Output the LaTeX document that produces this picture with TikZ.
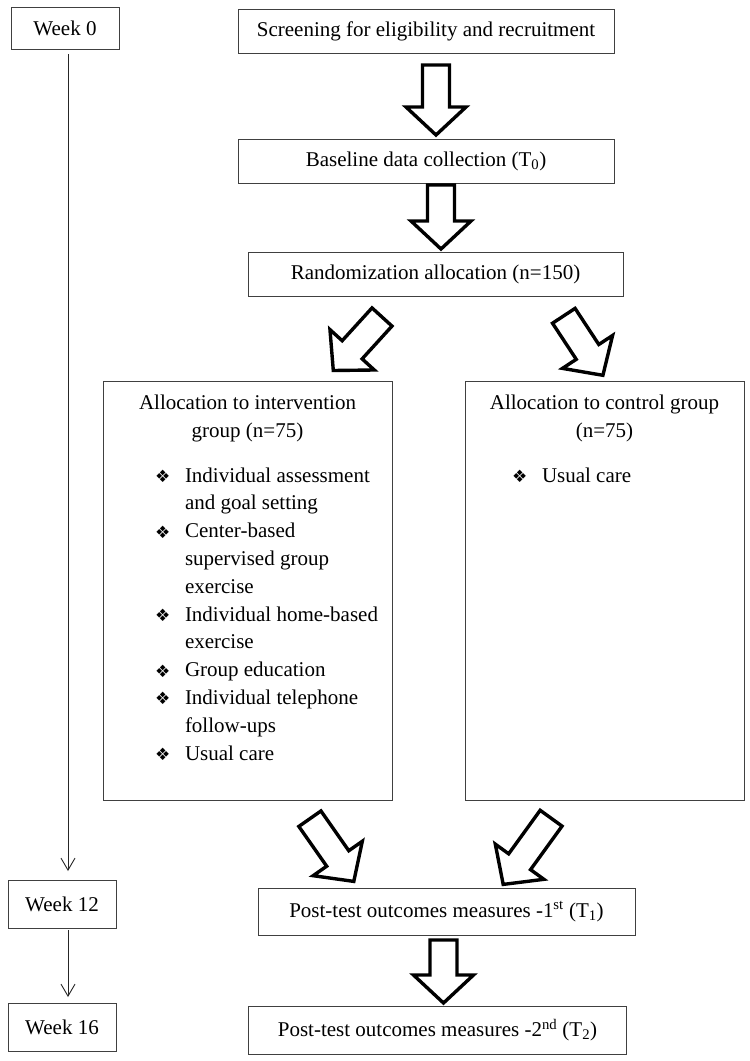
\documentclass[tikz,border=0pt]{standalone}
\usepackage{fontspec}
\setmainfont{Liberation Serif}
\newfontfamily\symfont{DejaVu Sans}
\usetikzlibrary{calc,arrows.meta}

\newcommand{\bul}{\makebox[30pt][l]{\raisebox{-0.5pt}{\fontsize{17}{17}\symfont ❖}}}

\tikzset{
  box/.style={draw=black!75, line width=0.9pt, inner sep=0pt, outer sep=0pt,
    align=center, font=\fontsize{21}{28}\selectfont},
  barrow/.style={draw=black, fill=white, line width=3.4pt, line join=miter, miter limit=10},
  tl/.style={draw=black!85, line width=0.9pt, -{Straight Barb[length=12pt,width=14pt,line width=0.9pt]}},
  txt/.style={inner sep=0pt, outer sep=0pt, font=\fontsize{21}{28}\selectfont},
  lst/.style={inner sep=0pt, outer sep=0pt, font=\fontsize{21}{27.8}\selectfont}
}

\newcommand{\blockarrow}[2]{%
  \coordinate (bh) at ($(#2)!28pt!(#1)$);
  \draw[barrow] ($(#1)!13.5pt!90:(#2)$) -- ($(bh)!13.5pt!90:(#2)$) -- ($(bh)!30pt!90:(#2)$)
    -- (#2) -- ($(bh)!30pt!-90:(#2)$) -- ($(bh)!13.5pt!-90:(#2)$) -- ($(#1)!13.5pt!-90:(#2)$) -- cycle;}

\begin{document}
\begin{tikzpicture}[x=1pt, y=-1pt]
\fill[white] (0,0) rectangle (750,1061);
\useasboundingbox (0,0) rectangle (750,1061);

% week boxes
\node[box, minimum width=108pt, minimum height=42pt] (week0) at (65,28) {Week 0};
\node[box, minimum width=108pt, minimum height=48pt] (week12) at (62,904) {Week 12};
\node[box, minimum width=108pt, minimum height=48pt] (week16) at (62,1027) {Week 16};

% main flow boxes
\node[box, minimum width=376pt, minimum height=44pt] (screen) at (426,31) {Screening for eligibility and recruitment};
\node[box, minimum width=376pt, minimum height=44pt] (base) at (426,161) {Baseline data collection (T\textsubscript{0})};
\node[box, minimum width=375pt, minimum height=44pt] (rand) at (435.5,274) {Randomization allocation (n=150)};
\node[box, minimum width=289pt, minimum height=419pt] (interv) at (247.5,590.5) {};
\node[box, minimum width=279pt, minimum height=419pt] (ctrl) at (604.5,590.5) {};
\node[box, minimum width=377pt, minimum height=47pt] (post1) at (446.5,911.5) {Post-test outcomes measures -1\textsuperscript{st} (T\textsubscript{1})};
\node[box, minimum width=378pt, minimum height=48pt] (post2) at (437.5,1030) {Post-test outcomes measures -2\textsuperscript{nd} (T\textsubscript{2})};

% intervention content
\node[txt, anchor=base] (ihead) at (247.5,409) {\begin{tabular}[t]{@{}c@{}}Allocation to intervention\\group (n=75)\end{tabular}};
\node[lst, anchor=base west] (ilist) at (155,482) {\begin{tabular}[t]{@{}l@{}l@{}}
\bul & Individual assessment\\
 & and goal setting\\
\bul & Center-based\\
 & supervised group\\
 & exercise\\
\bul & Individual home-based\\
 & exercise\\
\bul & Group education\\
\bul & Individual telephone\\
 & follow-ups\\
\bul & Usual care
\end{tabular}};

% control content
\node[txt, anchor=base] (chead) at (604.5,409) {\begin{tabular}[t]{@{}c@{}}Allocation to control group\\(n=75)\end{tabular}};
\node[lst, anchor=base west] (clist) at (512,482) {\begin{tabular}[t]{@{}l@{}l@{}}
\bul & Usual care
\end{tabular}};

% block arrows
\coordinate (a1s) at (436,65);   \coordinate (a1t) at (436,135);
\coordinate (a2s) at (441,185);  \coordinate (a2t) at (441,249);
\coordinate (d1s) at (382,317);  \coordinate (d1t) at (333.3,370.5);
\coordinate (d2s) at (563.8,315.8); \coordinate (d2t) at (602.9,375.3);
\coordinate (d3s) at (309.9,818.7); \coordinate (d3t) at (353.8,881.4);
\coordinate (d4s) at (551.1,818.2); \coordinate (d4t) at (503.2,884.4);
\coordinate (a3s) at (443.5,940); \coordinate (a3t) at (443.5,1003);
\blockarrow{a1s}{a1t}
\blockarrow{a2s}{a2t}
\blockarrow{d1s}{d1t}
\blockarrow{d2s}{d2t}
\blockarrow{d3s}{d3t}
\blockarrow{d4s}{d4t}
\blockarrow{a3s}{a3t}

% timeline
\coordinate (t0) at (68,54);  \coordinate (t1) at (68,871);
\coordinate (t2) at (68,930); \coordinate (t3) at (68,997);
\draw[tl] (t0) -- (t1);
\draw[tl] (t2) -- (t3);
\end{tikzpicture}
\end{document}
